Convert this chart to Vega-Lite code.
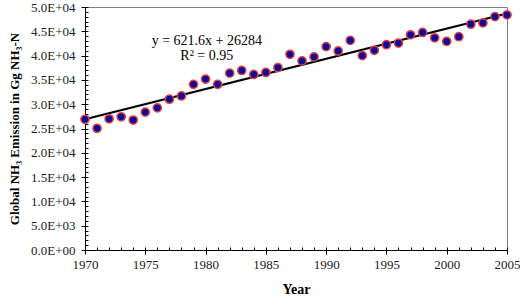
{
  "$schema": "https://vega.github.io/schema/vega-lite/v6.json",
  "width": 422,
  "height": 243,
  "autosize": {"type": "none"},
  "padding": {"left": 85, "top": 7, "right": 13, "bottom": 50},
  "background": "white",
  "config": {
    "view": {"stroke": "#808080", "strokeWidth": 1},
    "font": "Liberation Serif",
    "axis": {"labelFont": "Liberation Serif", "titleFont": "Liberation Serif", "labelColor": "#222", "titleColor": "black", "domainColor": "black", "tickColor": "black", "grid": false}
  },
  "datasets": {
    "pts": [
      {"year": 1970, "emission": 26880},
      {"year": 1971, "emission": 25040},
      {"year": 1972, "emission": 27000},
      {"year": 1973, "emission": 27410},
      {"year": 1974, "emission": 26735},
      {"year": 1975, "emission": 28370},
      {"year": 1976, "emission": 29250},
      {"year": 1977, "emission": 31020},
      {"year": 1978, "emission": 31700},
      {"year": 1979, "emission": 34080},
      {"year": 1980, "emission": 35170},
      {"year": 1981, "emission": 34080},
      {"year": 1982, "emission": 36390},
      {"year": 1983, "emission": 36940},
      {"year": 1984, "emission": 36120},
      {"year": 1985, "emission": 36530},
      {"year": 1986, "emission": 37550},
      {"year": 1987, "emission": 40270},
      {"year": 1988, "emission": 38910},
      {"year": 1989, "emission": 39730},
      {"year": 1990, "emission": 41840},
      {"year": 1991, "emission": 40950},
      {"year": 1992, "emission": 43130},
      {"year": 1993, "emission": 40000},
      {"year": 1994, "emission": 41090},
      {"year": 1995, "emission": 42240},
      {"year": 1996, "emission": 42590},
      {"year": 1997, "emission": 44290},
      {"year": 1998, "emission": 44760},
      {"year": 1999, "emission": 43670},
      {"year": 2000, "emission": 42920},
      {"year": 2001, "emission": 43880},
      {"year": 2002, "emission": 46460},
      {"year": 2003, "emission": 46730},
      {"year": 2004, "emission": 48020},
      {"year": 2005, "emission": 48370}
    ],
    "trend": [
      {"year": 1970, "emission": 26906},
      {"year": 2005, "emission": 48662}
    ],
    "labels": [
      {"year": 1980.1, "emission": 43000, "text": "y = 621.6x + 26284"},
      {"year": 1980.1, "emission": 40000, "text": "R² = 0.95"}
    ]
  },
  "resolve": {"axis": {"x": "independent", "y": "independent"}},
  "layer": [
    {
      "data": {"name": "trend"},
      "mark": {"type": "line", "color": "black", "strokeWidth": 2},
      "encoding": {
        "x": {
          "field": "year", "type": "quantitative",
          "scale": {"domain": [1970, 2005], "nice": false, "zero": false},
          "axis": {
            "orient": "bottom",
            "title": "Year", "titleFontSize": 14, "titleFontWeight": "bold", "titlePadding": 11,
            "values": [1970, 1975, 1980, 1985, 1990, 1995, 2000, 2005],
            "format": "d",
            "tickSize": 4,
            "labelFontSize": 13, "labelPadding": 4, "labelFlush": false, "labelOverlap": false
          }
        },
        "y": {
          "field": "emission", "type": "quantitative",
          "scale": {"domain": [0, 50000], "nice": false},
          "axis": {
            "orient": "left",
            "title": "Global NH₃ Emission in Gg NH₃-N", "titleFontSize": 13, "titleFontWeight": "bold", "titlePadding": 9,
            "values": [0, 5000, 10000, 15000, 20000, 25000, 30000, 35000, 40000, 45000, 50000],
            "labelExpr": "datum.value == 0 ? '0.0E+00' : (datum.value < 10000 ? format(datum.value/1000, '.1f') + 'E+03' : format(datum.value/10000, '.1f') + 'E+04')",
            "tickSize": 4,
            "labelFontSize": 13, "labelPadding": 6, "labelOverlap": false
          }
        }
      }
    },
    {
      "data": {"name": "pts"},
      "mark": {"type": "circle", "size": 68, "fill": "#0c0c9c", "stroke": "#e8403c", "strokeWidth": 1.5, "opacity": 1},
      "encoding": {
        "x": {
          "field": "year", "type": "quantitative",
          "axis": {
            "orient": "bottom", "title": null, "labels": false, "domain": false,
            "values": [1970,1971,1972,1973,1974,1975,1976,1977,1978,1979,1980,1981,1982,1983,1984,1985,1986,1987,1988,1989,1990,1991,1992,1993,1994,1995,1996,1997,1998,1999,2000,2001,2002,2003,2004,2005],
            "tickSize": -3
          }
        },
        "y": {
          "field": "emission", "type": "quantitative",
          "axis": {
            "orient": "left", "title": null, "labels": false, "domain": false,
            "values": [0,1000,2000,3000,4000,5000,6000,7000,8000,9000,10000,11000,12000,13000,14000,15000,16000,17000,18000,19000,20000,21000,22000,23000,24000,25000,26000,27000,28000,29000,30000,31000,32000,33000,34000,35000,36000,37000,38000,39000,40000,41000,42000,43000,44000,45000,46000,47000,48000,49000,50000],
            "tickSize": -3
          }
        }
      }
    },
    {
      "data": {"name": "labels"},
      "mark": {"type": "text", "fontSize": 14, "font": "Liberation Serif", "color": "black", "align": "center", "baseline": "middle"},
      "encoding": {
        "x": {"field": "year", "type": "quantitative", "axis": null},
        "y": {"field": "emission", "type": "quantitative", "axis": null},
        "text": {"field": "text"}
      }
    }
  ]
}
